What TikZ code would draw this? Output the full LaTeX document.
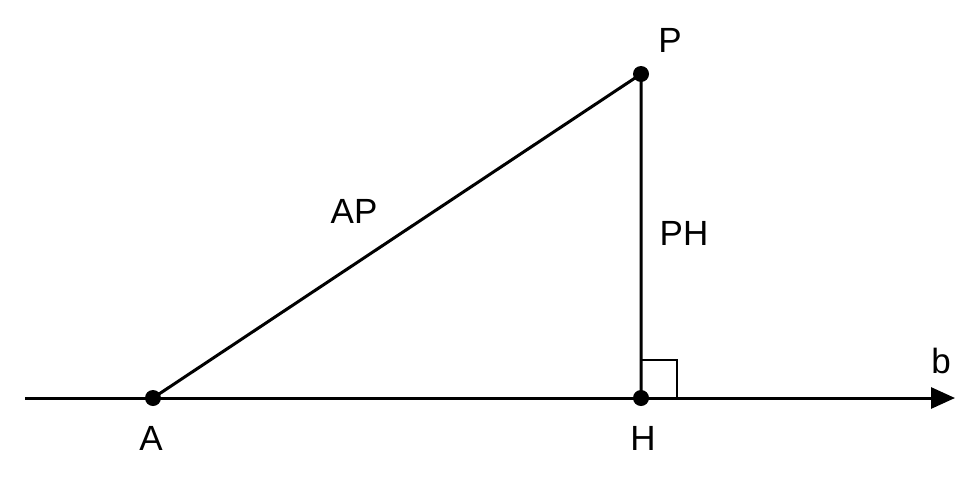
\documentclass[tikz,border=0pt]{standalone}
\usepackage{fontspec}
\setmainfont{Liberation Sans}
\usetikzlibrary{arrows.meta}
\begin{document}
\begin{tikzpicture}[x=1pt,y=-1pt,
  seg/.style={line width=3pt},
  dot/.style={circle,fill=black,inner sep=0pt,minimum size=16pt},
  lab/.style={font=\fontsize{35}{40}\selectfont,inner sep=0pt}]
\useasboundingbox (0,0) rectangle (977,477);
\fill[white] (0,0) rectangle (977,477);
\coordinate (L) at (25,398);
\coordinate (R) at (955,398);
\node[dot] (A) at (153,398) {};
\node[dot] (H) at (641,398) {};
\node[dot] (P) at (641,74) {};
\draw[seg,-{Triangle[length=24pt,width=21pt]}] (L) -- (R);
\draw[seg] (A.center) -- (P.center) -- (H.center);
\draw[line width=2.8pt] (641,360) -- (677,360) -- (677,398);
\node[lab] (lP) at (670,40) {P};
\node[lab] (lAP) at (354,211) {AP};
\node[lab] (lPH) at (684,233) {PH};
\node[lab] (lb) at (941,361) {b};
\node[lab] (lA) at (151,438) {A};
\node[lab] (lH) at (643,438) {H};
\end{tikzpicture}
\end{document}
